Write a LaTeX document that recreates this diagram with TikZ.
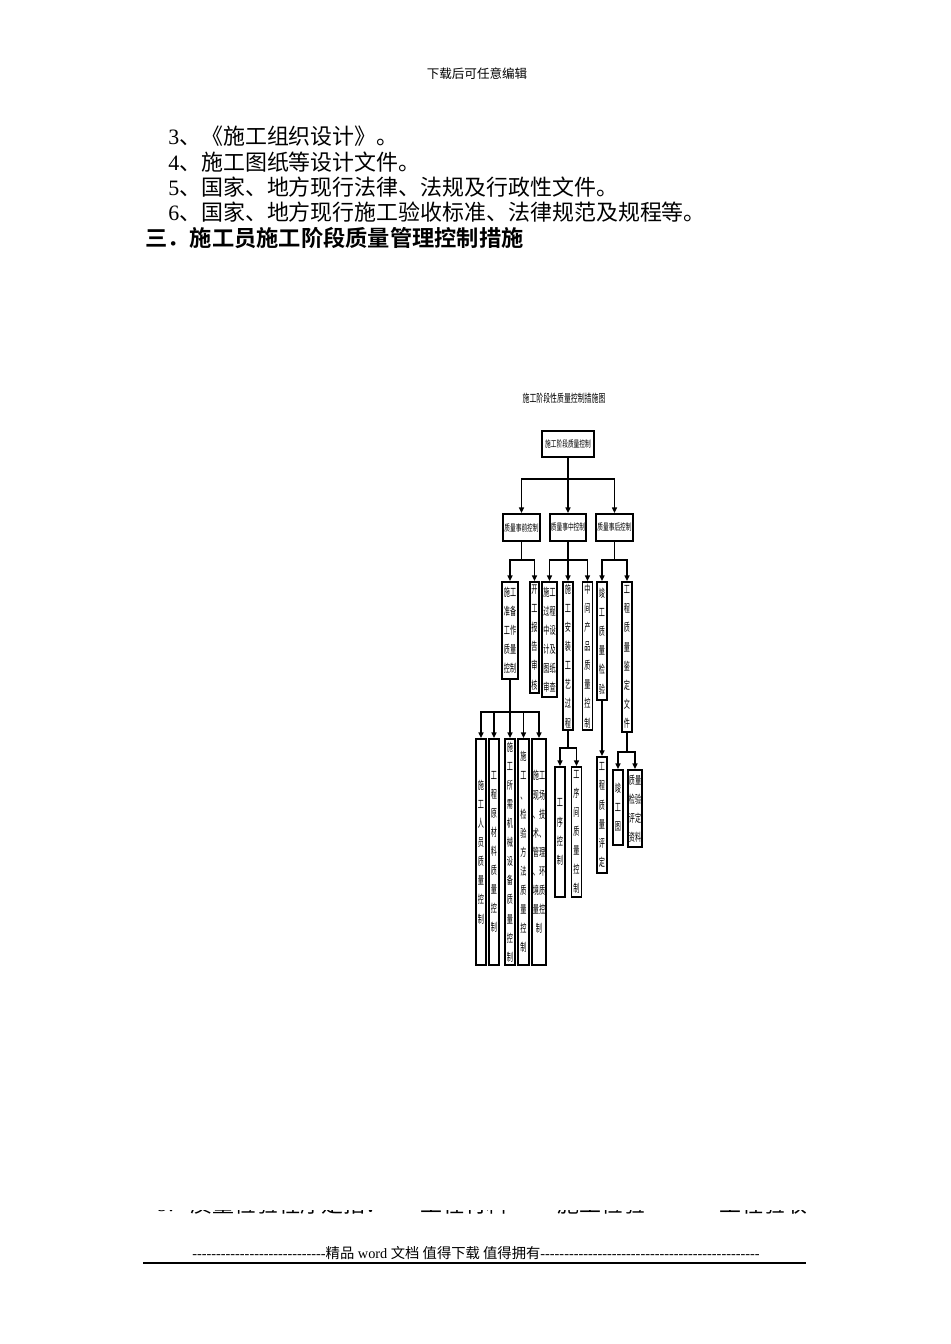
\documentclass[tikz,border=0pt]{standalone}
\usepackage{fontspec}
\setmainfont{Liberation Serif}
\newfontfamily\cjk{Noto Sans CJK SC}
\newfontfamily\cjkbold{Noto Sans CJK SC Bold}
\newfontfamily\dfont[FakeStretch=0.62]{Noto Sans CJK SC}
\newfontfamily\vfont[FakeStretch=0.55]{Noto Sans CJK SC}
\usepackage{tikz}
\usetikzlibrary{arrows.meta}
\newcommand{\pxl}{0.22105mm}
\tikzset{
  hbox/.style 2 args={draw, line width=1.05pt, inner sep=0pt,
    minimum width=#1*\pxl, minimum height=#2*\pxl,
    font=\dfont\fontsize{5.8}{7}\selectfont},
  vbox/.style 2 args={hbox={#1}{#2}, align=center,
    font=\vfont\fontsize{7}{12}\selectfont},
  link/.style={line width=1.2pt, -{Triangle[length=1.3mm,width=1.1mm]}},
  body/.style={anchor=west, inner sep=0pt, font=\cjk\fontsize{13.8}{16}\selectfont}
}

\begin{document}
\begin{tikzpicture}[x=\pxl, y=-\pxl]
                \useasboundingbox (0,0) rectangle (950,1344);

                %page header
                \node[inner sep=0pt, font=\cjk\fontsize{7.9}{9}\selectfont] (hdr) at (477,74) {下载后可任意编辑};

                %body text
                \node[body] (l3) at (168,136) {{\rmfamily 3}、《施工组织设计》。};
                \node[body] (l4) at (168,162) {{\rmfamily 4}、施工图纸等设计文件。};
                \node[body] (l5) at (168,187) {{\rmfamily 5}、国家、地方现行法律、法规及行政性文件。};
                \node[body] (l6) at (168,212) {{\rmfamily 6}、国家、地方现行施工验收标准、法律规范及规程等。};
                \node[anchor=west, inner sep=0pt, font=\cjkbold\fontsize{14}{16}\selectfont] (head) at (145,238) {三．施工员施工阶段质量管理控制措施};

                %chart title
                \node[inner sep=0pt, font=\dfont\fontsize{7}{8}\selectfont] (title) at (564,398) {施工阶段性质量控制措施图};

                %level 1 and 2
                \node[hbox={52}{26}] (root) at (568,444) {施工阶段质量控制};
                \node[hbox={37}{27}] (pre) at (521.5,527.5) {质量事前控制};
                \node[hbox={36}{27}] (mid) at (568,527.5) {质量事中控制};
                \node[hbox={37}{27}] (post) at (614.5,527.5) {质量事后控制};

                %level 3
                \node[vbox={16}{97}] (a1) at (510,630.5) {施工\\准备\\工作\\质量\\控制};
                \node[vbox={9}{111}] (a2) at (534.5,637.5) {开\\工\\报\\告\\审\\核};
                \node[vbox={15}{115}] (b1) at (549.5,639.5) {施工\\过程\\中设\\计及\\图纸\\审查};
                \node[vbox={10}{148}] (b2) at (568,656) {施\\工\\安\\装\\工\\艺\\过\\程};
                \node[vbox={10}{148}] (b3) at (587.5,656) {中\\间\\产\\品\\质\\量\\控\\制};
                \node[vbox={10}{118}] (c1) at (602,641) {竣\\工\\质\\量\\检\\验};
                \node[vbox={10}{150}] (c2) at (627,657) {工\\程\\质\\量\\鉴\\定\\文\\件};

                %level 4 under a1
                \node[vbox={10}{226}] (d1) at (481,852) {施\\工\\人\\员\\质\\量\\控\\制};
                \node[vbox={10}{226}] (d2) at (494,852) {工\\程\\原\\材\\料\\质\\量\\控\\制};
                \node[vbox={10}{226}] (d3) at (510,852) {施\\工\\所\\需\\机\\械\\设\\备\\质\\量\\控\\制};
                \node[vbox={11}{226}] (d4) at (523.5,852) {施\\工\\、\\检\\验\\方\\法\\质\\量\\控\\制};
                \node[vbox={14}{226}] (d5) at (539,852) {施工\\现场\\、技\\术、\\管理\\、环\\境质\\量控\\制};

                %level 4 under b2, c1, c2
                \node[vbox={10}{130}] (e1) at (560,832) {工\\序\\控\\制};
                \node[vbox={10}{130}] (e2) at (576.5,832) {工\\序\\间\\质\\量\\控\\制};
                \node[vbox={10}{116}] (f1) at (602,815) {工\\程\\质\\量\\评\\定};
                \node[vbox={10}{75}] (g1) at (618,807.5) {竣\\工\\图};
                \node[vbox={14}{77}] (g2) at (635,808.5) {质量\\检验\\评定\\资料};

                %bus heights
                \coordinate (bus1) at (0,479);
                \coordinate (bus2) at (0,560);
                \coordinate (bus3) at (0,712);
                \coordinate (bus4) at (0,748);
                \coordinate (bus5) at (0,752);

                %connectors
                \foreach \n in {pre,mid,post}
                    \draw[link] (root.south) -- (root.south |- bus1) -| (\n.north);
                \foreach \n in {a1,a2}
                    \draw[link] (pre.south) -- (pre.south |- bus2) -| (\n.north);
                \foreach \n in {b1,b2,b3}
                    \draw[link] (mid.south) -- (mid.south |- bus2) -| (\n.north);
                \foreach \n in {c1,c2}
                    \draw[link] (post.south) -- (post.south |- bus2) -| (\n.north);
                \foreach \n in {1,...,5}
                    \draw[link] (a1.south) -- (a1.south |- bus3) -| (d\n.north);
                \foreach \n in {e1,e2}
                    \draw[link] (b2.south) -- (b2.south |- bus4) -| (\n.north);
                \draw[link] (c1.south) -- (f1.north);
                \foreach \n in {g1,g2}
                    \draw[link] (c2.south) -- (c2.south |- bus5) -| (\n.north);

                %cut off line near the bottom
                \begin{scope}
                    \clip (140,1210) rectangle (820,1222);
                    \node[body] (cut1) at (157,1204) {{\rmfamily 9.}};
                    \node[body] (cut2) at (190,1204) {质量检验程序是指：};
                    \node[body] (cut3) at (420,1204) {工程材料};
                    \node[body] (cut4) at (557,1204) {施工检验};
                    \node[body] (cut5) at (719,1204) {工程验收};
                \end{scope}

                %page footer
                \node[anchor=west, inner sep=0pt, font=\rmfamily\fontsize{9}{10}\selectfont] (foot) at (192,1253)
                    {\foreach \i in {1,...,28}{-}{\cjk 精品} word {\cjk 文档 值得下载 值得拥有}\foreach \i in {1,...,46}{-}};
                \draw[line width=0.9pt] (143,1263) -- (806,1263);
\end{tikzpicture}
\end{document}
